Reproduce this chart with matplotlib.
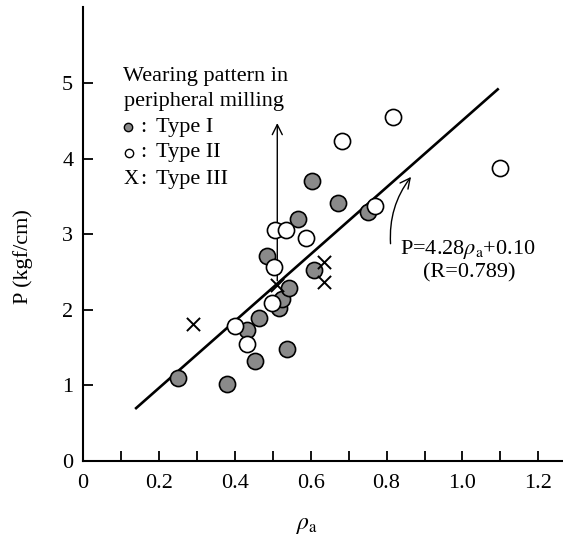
import matplotlib
matplotlib.use("Agg")
import matplotlib.pyplot as plt
import numpy as np

plt.rcParams['font.family'] = ['Liberation Serif', 'DejaVu Serif']
plt.rcParams['mathtext.fontset'] = 'stix'

# Data
type1_x = [0.251, 0.379, 0.452, 0.538, 0.432, 0.463, 0.516, 0.525, 0.542, 0.485, 0.566, 0.604, 0.673, 0.608, 0.750]
type1_y = [1.10, 1.02, 1.32, 1.48, 1.73, 1.89, 2.03, 2.15, 2.29, 2.72, 3.21, 3.70, 3.41, 2.53, 3.30]
type2_x = [0.432, 0.401, 0.498, 0.503, 0.507, 0.536, 0.589, 0.682, 0.770, 0.816, 1.098]
type2_y = [1.55, 1.79, 2.09, 2.57, 3.06, 3.06, 2.95, 4.23, 3.37, 4.56, 3.88]
type3_x = [0.291, 0.635, 0.635, 0.510]
type3_y = [1.82, 2.64, 2.37, 2.33]
line_x = [0.14, 1.093]
line_y = [0.70, 4.92]

xticks = [0, 0.2, 0.4, 0.6, 0.8, 1.0, 1.2]
xticklabels = ["0", "0.2", "0.4", "0.6", "0.8", "1.0", "1.2"]
yticks = [0, 1, 2, 3, 4, 5]
yticklabels = ["0", "1", "2", "3", "4", "5"]

fs = 16
fig = plt.figure(figsize=(5.63, 5.37), dpi=100)
ax = fig.add_axes([83/563, 76/537, 1 - 83/563, 454/537])
ax.set_xlim(0, 1.265)
ax.set_ylim(0, 6.01)

for s in ['top', 'right']:
    ax.spines[s].set_visible(False)
for s in ['left', 'bottom']:
    ax.spines[s].set_linewidth(1.5)

ax.set_xticks(xticks)
ax.set_xticklabels(xticklabels)
ax.set_xticks(np.arange(0.1, 1.25, 0.2), minor=True)
ax.set_yticks(yticks)
ax.set_yticklabels(yticklabels)
ax.tick_params(which='both', direction='in', length=7, width=1.3, labelsize=fs)
ax.tick_params(axis='x', pad=9)
ax.tick_params(axis='y', pad=7)

ax.plot(line_x, line_y, color='black', lw=1.9, zorder=2)

ax.scatter(type1_x, type1_y, s=135, facecolor='#8a8a8a', edgecolor='black', linewidths=1.2, zorder=3)
ax.scatter(type2_x, type2_y, s=135, facecolor='white', edgecolor='black', linewidths=1.2, zorder=4)
ax.scatter(type3_x, type3_y, s=90, marker='x', color='black', linewidths=1.4, zorder=5)

# vertical arrow to legend
ax.annotate('', xy=(0.512, 4.51), xytext=(0.512, 2.35),
            arrowprops=dict(arrowstyle='->', lw=1.0, color='black', mutation_scale=18), zorder=1)
# curved arrow to regression line
ax.annotate('', xy=(0.869, 3.79), xytext=(0.811, 2.84),
            arrowprops=dict(arrowstyle='->', lw=1.0, color='black', mutation_scale=18,
                            connectionstyle='arc3,rad=-0.2'))

ax.text(0.836, 2.80, r"P=4.28$\rho_\mathrm{a}$+0.10", fontsize=fs, ha='left', va='center')
ax.text(1.019, 2.49, "(R=0.789)", fontsize=fs, ha='center', va='center')

# legend-like annotation
ax.text(0.105, 5.09, "Wearing pattern in", fontsize=fs, ha='left', va='center')
ax.text(0.108, 4.76, "peripheral milling", fontsize=fs, ha='left', va='center')
ax.plot([0.119], [4.42], 'o', ms=6, mfc='#8a8a8a', mec='black', mew=1.0, clip_on=False)
ax.plot([0.120], [4.08], 'o', ms=6, mfc='white', mec='black', mew=1.0, clip_on=False)
ax.text(0.127, 3.73, "X", fontsize=fs - 1, ha='center', va='center')
for yy, lab in zip([4.42, 4.08, 3.73], ["Type I", "Type II", "Type III"]):
    ax.text(0.158, yy, ":", fontsize=fs, ha='center', va='center')
    ax.text(0.193, yy, lab, fontsize=fs, ha='left', va='center')

ax.set_ylabel("P (kgf/cm)", fontsize=fs)
ax.yaxis.set_label_coords(-0.105, 0.45)
ax.set_xlabel(r"$\rho_\mathrm{a}$", fontsize=fs + 1)
ax.xaxis.set_label_coords(0.466, -0.118)

fig.savefig("out.png", dpi=100)
